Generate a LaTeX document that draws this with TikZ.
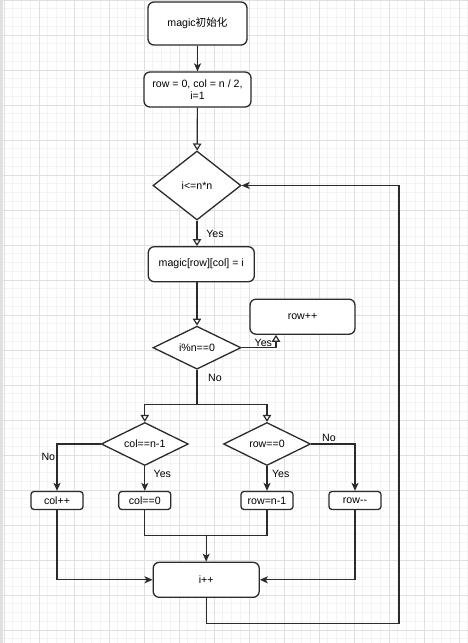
\documentclass[tikz,border=0pt]{standalone}
\usepackage{fontspec}
\setmainfont{Liberation Sans}
\newfontfamily\cjk{Noto Sans CJK SC}
\usetikzlibrary{shapes.geometric,arrows.meta}
\definecolor{minorgrid}{HTML}{F3F3F3}
\definecolor{majorgrid}{HTML}{DFDFDF}
\definecolor{linec}{HTML}{2B2B2B}
\begin{document}
\begin{tikzpicture}[x=1pt,y=-1pt,
  every node/.style={font=\fontsize{10.6}{12.5}\selectfont, text=black},
  box/.style={draw=linec, line width=1.3pt, rounded corners=6pt, fill=white, inner sep=0pt, align=center},
  sbox/.style={box, rounded corners=3pt},
  dia/.style={draw=linec, line width=1.3pt, diamond, aspect=2, inner sep=0pt, fill=white},
  conn/.style={draw=linec, line width=1.2pt},
  fa/.style={conn, -{Stealth[length=8pt,width=7pt,inset=2pt]}},
  oa/.style={conn, -{Triangle[open,length=7pt,width=8.5pt,fill=white]}},
  lab/.style={inner sep=0pt},
]
\useasboundingbox (0,0) rectangle (468,643);
\fill[white] (0,0) rectangle (468,643);
% grid
\foreach \k in {0,...,53} {\draw[minorgrid, line width=0.8pt] ({4+8.75*\k},0) -- ({4+8.75*\k},643);}
\foreach \k in {0,...,74} {\draw[minorgrid, line width=0.8pt] (0,{8.75*\k}) -- (468,{8.75*\k});}
\foreach \k in {0,...,13} {\draw[majorgrid, line width=0.8pt] ({4+35*\k},0) -- ({4+35*\k},643);}
\foreach \k in {0,...,18} {\draw[majorgrid, line width=0.8pt] (0,{35*\k}) -- (468,{35*\k});}
\fill[black!12] (0,0) rectangle (3,643);

% nodes
\node[box, minimum width=99pt, minimum height=43pt] (b1) at (197.5,23.5) {magic{\cjk 初始化}};
\node[box, minimum width=107pt, minimum height=35pt] (b2) at (197.5,89.5) {row = 0, col = n / 2,\\ i=1};
\node[dia, minimum width=88pt, minimum height=69pt] (d1) at (197,185.5) {i<=n*n};
\node[box, minimum width=106pt, minimum height=35pt] (b3) at (201.3,264.2) {magic[row][col] = i};
\node[dia, minimum width=88pt, minimum height=43pt] (d2) at (197,347.7) {i\%n==0};
\node[box, minimum width=105pt, minimum height=35pt] (rowpp) at (302.5,316.7) {row++};
\node[dia, minimum width=87pt, minimum height=43pt] (d3) at (144.8,444) {col==n{-}1};
\node[dia, minimum width=87pt, minimum height=43pt] (d4) at (267,444) {row==0};
\node[sbox, minimum width=52pt, minimum height=18pt] (colpp) at (57,500.5) {col++};
\node[sbox, minimum width=52pt, minimum height=18pt] (col0) at (144.8,500.5) {col==0};
\node[sbox, minimum width=52pt, minimum height=18pt] (rown1) at (267,500.5) {row=n{-}1};
\node[sbox, minimum width=52pt, minimum height=18pt] (rowmm) at (355,500.5) {row{-}{-}};
\node[box, minimum width=106pt, minimum height=35pt] (ipp) at (206.2,579.8) {i++};

% connectors
\draw[fa] (b1) -- (b2);
\draw[oa] (b2) -- (d1);
\draw[oa] (d1.south) -- (d1.south |- b3.north);
\draw[oa] (b3.south -| d2.north) -- (d2.north);
\draw[oa] (d2.east) -| ([xshift=-26.5pt]rowpp.south);
\coordinate (split) at (197,404.3);
\draw[conn] (d2.south) -- (split);
\draw[oa] (split) -| (d3.north);
\draw[oa] (split) -| (d4.north);
\draw[fa] (d3.west) -| (colpp.north);
\draw[fa] (d3.south) -- (col0.north);
\draw[fa] (d4.east) -| (rowmm.north);
\draw[fa] (d4.south) -- (rown1.north);
\coordinate (merge) at (206.2,535.7);
\draw[conn] (col0.south) |- (merge) -| (rown1.south);
\draw[fa] (merge) -- (ipp.north);
\draw[fa] (colpp.south) |- (ipp.west);
\draw[fa] (rowmm.south) |- (ipp.east);
\coordinate (lp1) at (399,623.3);
\draw[fa] (ipp.south) |- (lp1) |- (d1.east);

% labels
\node[lab] (yes1) at (215,234) {Yes};
\node[lab] (yes2) at (263.3,342.7) {Yes};
\node[lab] (no1) at (215,377.7) {No};
\node[lab] (no2) at (48.3,457.3) {No};
\node[lab] (yes3) at (162.3,474.3) {Yes};
\node[lab] (no3) at (329,438.3) {No};
\node[lab] (yes4) at (280.7,474.3) {Yes};
\end{tikzpicture}
\end{document}
